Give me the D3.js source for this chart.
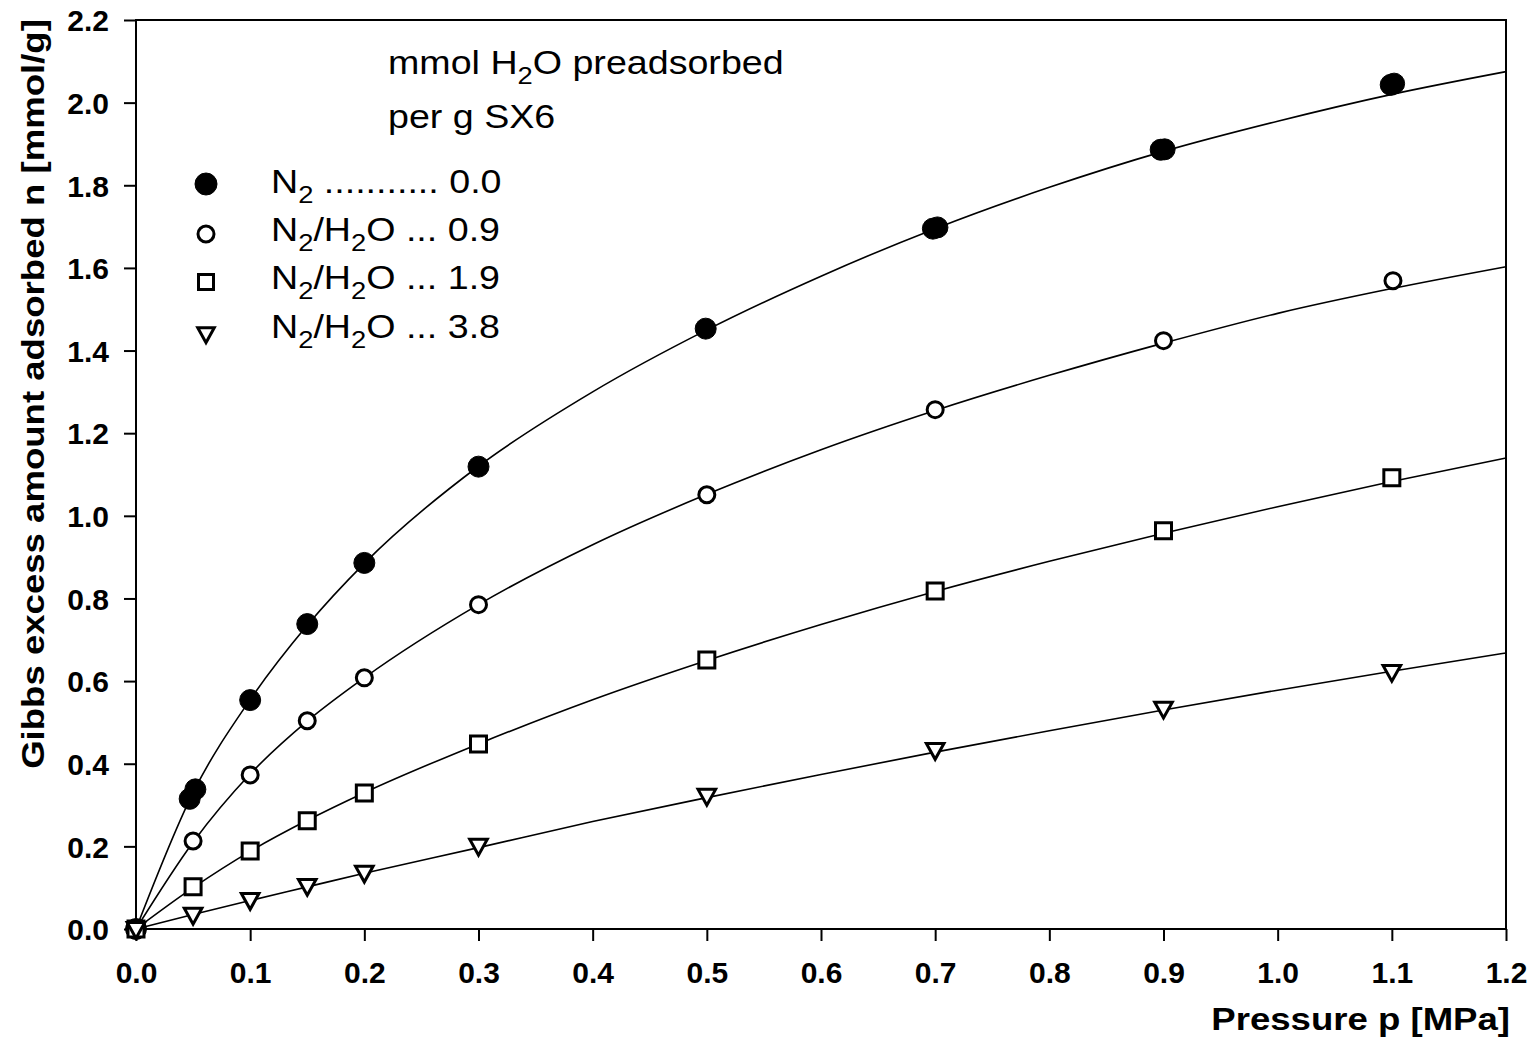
<!DOCTYPE html>
<html>
<head>
<meta charset="utf-8">
<script src="https://cdn.jsdelivr.net/npm/d3@7"></script>
<style>
  body { margin: 0; background: #fff; }
  svg { display: block; }
  text { font-family: "Liberation Sans", Arial, sans-serif; fill: #000; }
  .tick-label { font-weight: bold; font-size: 30px; }
  .axis-title { font-weight: bold; font-size: 31px; }
  .legend-text { font-size: 33px; }
</style>
</head>
<body>
<script>
// measured points, Gibbs excess [mmol/g] vs pressure [MPa]
var n2X   = [0, 0.047, 0.052, 0.1, 0.15, 0.2, 0.3, 0.499, 0.698, 0.702, 0.8975, 0.901, 1.099, 1.102],
    n2Y   = [0, 0.315, 0.338, 0.554, 0.738, 0.886, 1.119, 1.453, 1.695, 1.698, 1.886, 1.887, 2.043, 2.046];
var h09X  = [0, 0.05, 0.1, 0.15, 0.2, 0.3, 0.5, 0.7, 0.9, 1.101],
    h09Y  = [0, 0.213, 0.373, 0.504, 0.608, 0.785, 1.051, 1.257, 1.424, 1.569];
var h19X  = [0, 0.05, 0.1, 0.15, 0.2, 0.3, 0.5, 0.7, 0.9, 1.1],
    h19Y  = [0, 0.102, 0.189, 0.262, 0.329, 0.448, 0.651, 0.818, 0.964, 1.092];
var h38X  = [0, 0.05, 0.1, 0.15, 0.2, 0.3, 0.5, 0.7, 0.9, 1.1],
    h38Y  = [0, 0.034, 0.070, 0.104, 0.136, 0.201, 0.322, 0.433, 0.533, 0.622];

// fitted curves
var fitX    = [0, 0.05, 0.1, 0.15, 0.2, 0.3, 0.4, 0.5, 0.6, 0.7, 0.8, 0.9, 1.0, 1.1, 1.2];
var fitN2   = [0, 0.33, 0.555, 0.735, 0.885, 1.12, 1.30, 1.45, 1.58, 1.695, 1.795, 1.882, 1.955, 2.02, 2.075];
var fitH09  = [0, 0.21, 0.375, 0.503, 0.608, 0.785, 0.93, 1.052, 1.16, 1.255, 1.34, 1.418, 1.49, 1.55, 1.603];
var fitH19  = [0, 0.10, 0.188, 0.263, 0.33, 0.448, 0.555, 0.65, 0.737, 0.817, 0.89, 0.958, 1.022, 1.083, 1.14];
var fitH38  = [0, 0.035, 0.069, 0.102, 0.135, 0.197, 0.26, 0.318, 0.374, 0.428, 0.48, 0.53, 0.578, 0.624, 0.668];

var xTicks = [0, 0.1, 0.2, 0.3, 0.4, 0.5, 0.6, 0.7, 0.8, 0.9, 1.0, 1.1, 1.2],
    yTicks = [0, 0.2, 0.4, 0.6, 0.8, 1.0, 1.2, 1.4, 1.6, 1.8, 2.0, 2.2];

var legendLabels = ["N2", "N2/H2O", "N2/H2O", "N2/H2O"],
    legendValues = ["0.0", "0.9", "1.9", "3.8"],
    legendDots   = [" ........... ", " ... ", " ... ", " ... "],
    symbolKinds  = ["filled", "circle", "square", "triangle"];

var W = 1536, H = 1041;
var margin = {top: 20, right: 30, bottom: 112, left: 136};
var stretch = 1.18,       // text in the figure is drawn wider than plain Arial
	legendStretch = 1.14;

var svg = d3.select("body").append("svg")
	.attr("width", W)
	.attr("height", H);

var xScale = d3.scaleLinear().domain([0, 1.2]).range([margin.left, W - margin.right]),
	yScale = d3.scaleLinear().domain([0, 2.2]).range([H - margin.bottom, margin.top]);

//////////////
// axes
//////////////
var xAxis = d3.axisBottom(xScale).tickValues(xTicks).tickSize(12).tickFormat(d3.format(".1f")),
	yAxis = d3.axisLeft(yScale).tickValues(yTicks).tickSize(12).tickFormat(d3.format(".1f"));

var gX = svg.append("g")
	.attr("transform", "translate(0," + yScale(0) + ")")
	.call(xAxis);
var gY = svg.append("g")
	.attr("transform", "translate(" + xScale(0) + ",0)")
	.call(yAxis);

[gX, gY].forEach(function(g) {
	g.select(".domain").remove();
	g.selectAll(".tick line").attr("stroke", "#000").attr("stroke-width", 2);
	g.selectAll(".tick text").attr("class", "tick-label").attr("fill", "#000");
});
gX.selectAll(".tick text").attr("dy", null).attr("y", 54);
gY.selectAll(".tick text").attr("x", -27).attr("dy", "0.36em");

// frame
svg.append("rect")
	.attr("x", xScale(0))
	.attr("y", yScale(2.2))
	.attr("width", xScale(1.2) - xScale(0))
	.attr("height", yScale(0) - yScale(2.2))
	.attr("fill", "none")
	.attr("stroke", "#000")
	.attr("stroke-width", 2);

// axis titles
svg.append("text")
	.attr("class", "axis-title")
	.attr("transform", "translate(" + (xScale(1.2) + 4) + ",1030) scale(" + stretch + ",1)")
	.style("text-anchor", "end")
	.text("Pressure p [MPa]");
svg.append("text")
	.attr("class", "axis-title")
	.attr("transform", "translate(44,394) rotate(-90) scale(" + stretch + ",1)")
	.style("text-anchor", "middle")
	.text("Gibbs excess amount adsorbed n [mmol/g]");

//////////////
// fitted lines
//////////////
var line = d3.line()
	.x(function(d) { return xScale(d[0]); })
	.y(function(d) { return yScale(d[1]); })
	.curve(d3.curveMonotoneX);

[fitN2, fitH09, fitH19, fitH38].forEach(function(ys) {
	svg.append("path")
		.datum(fitX.map(function(x, i) { return [x, ys[i]]; }))
		.attr("d", line)
		.attr("fill", "none")
		.attr("stroke", "#000")
		.attr("stroke-width", 1.6);
});

//////////////
// markers
//////////////
function symbolPath(kind, r) {
	if (kind === "square") return "M" + (-r) + "," + (-r) + "H" + r + "V" + r + "H" + (-r) + "Z";
	if (kind === "triangle") {
		var h = r * 1.1;
		return "M" + (-r * 1.1) + "," + (-h * 0.75) + "L" + (r * 1.1) + "," + (-h * 0.75) + "L0," + (h * 1.05) + "Z";
	}
	return "M" + r + ",0A" + r + "," + r + " 0 1,1 " + (-r) + ",0A" + r + "," + r + " 0 1,1 " + r + ",0Z";
}

function addMarkers(xs, ys, kind, r) {
	svg.append("g").selectAll("path")
		.data(xs.map(function(x, i) { return [x, ys[i]]; })).enter()
		.append("path")
		.attr("transform", function(d) { return "translate(" + xScale(d[0]) + "," + yScale(d[1]) + ")"; })
		.attr("d", symbolPath(kind, r))
		.attr("fill", kind === "filled" ? "#000" : "#fff")
		.attr("stroke", "#000")
		.attr("stroke-width", kind === "filled" ? 1 : 3);
}

addMarkers(n2X, n2Y, "filled", 10.5);
addMarkers(h09X, h09Y, "circle", 8);
addMarkers(h19X, h19Y, "square", 8);
addMarkers(h38X, h38Y, "triangle", 8);

//////////////
// legend
//////////////
// writes a label, every "2" becomes a subscript
function subText(sel, label) {
	var parts = label.split(/(2)/).filter(function(p) { return p !== ""; });
	var lowered = false;
	parts.forEach(function(p) {
		if (p === "2") {
			sel.append("tspan").attr("font-size", "24px").attr("dy", 10).text("2");
			lowered = true;
		} else {
			sel.append("tspan").attr("dy", lowered ? -10 : null).text(p);
			lowered = false;
		}
	});
	return lowered;
}

function legendText(x, y) {
	return svg.append("text")
		.attr("class", "legend-text")
		.attr("transform", "translate(" + x + "," + y + ") scale(" + legendStretch + ",1)");
}

subText(legendText(388, 74), "mmol H2O preadsorbed");
legendText(388, 128).text("per g SX6");

var rowY = [193, 241, 289, 338],
	symY = [184, 234, 282, 334],
	symR = [11, 8, 7.5, 7.5];

legendLabels.forEach(function(lab, i) {
	var t = legendText(271, rowY[i]);
	var lowered = subText(t, lab);
	t.append("tspan").attr("dy", lowered ? -10 : null).text(legendDots[i] + legendValues[i]);
	svg.append("path")
		.attr("transform", "translate(206," + symY[i] + ")")
		.attr("d", symbolPath(symbolKinds[i], symR[i]))
		.attr("fill", symbolKinds[i] === "filled" ? "#000" : "#fff")
		.attr("stroke", "#000")
		.attr("stroke-width", symbolKinds[i] === "filled" ? 1 : 3);
});
</script>
</body>
</html>
